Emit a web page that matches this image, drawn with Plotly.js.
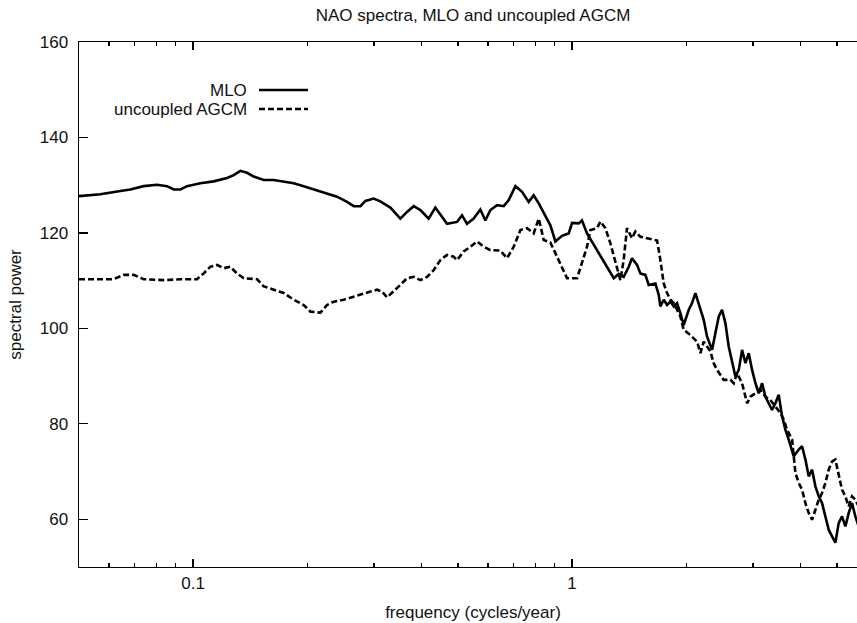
<!DOCTYPE html>
<html>
<head>
<meta charset="utf-8">
<script src="https://cdn.plot.ly/plotly-3.0.1.min.js"></script>
<style>
  html, body { margin: 0; padding: 0; background: #fff; overflow: hidden; width: 857px; height: 623px; }
  #chart { width: 877px; height: 623px; }
</style>
</head>
<body>
<div id="chart"></div>
<script>
// ---- data ----
const mloFreq = [0.05,0.0569,0.0643,0.0683,0.0741,0.0803,0.0854,0.0889,0.0926,0.0964,0.1045,0.1133,0.1229,0.128,0.1333,0.1388,0.1445,0.1536,0.1632,0.1734,0.1843,0.1958,0.2081,0.2256,0.2398,0.2548,0.2654,0.2764,0.2849,0.2996,0.3119,0.3315,0.3523,0.3668,0.3821,0.3979,0.4184,0.4357,0.4446,0.4678,0.4971,0.5124,0.5281,0.55,0.5728,
0.5904,0.6087,0.6339,0.6601,0.6805,0.7087,0.7379,0.7683,0.792,0.8166,0.8502,0.8765,0.9035,0.9408,0.9797,1.0,1.041,1.062,1.095,1.141,1.188,1.237,1.288,1.327,1.368,1.411,1.439,1.484,1.514,1.561,1.593,1.659,1.693,1.71,1.745,1.781,1.818,1.854,1.892,1.931,1.97,2.032,2.073,2.115,2.159,2.225,2.27,2.341,2.388,2.438,2.487,2.538,2.59,2.643,2.697,2.753,2.809,2.867,2.925,2.985,3.046,3.108,3.172,3.236,3.303,3.37,3.439,3.509,3.581,3.654,3.729,3.806,
3.845,3.963,4.044,4.127,4.211,4.298,4.385,4.475,4.566,4.659,4.755,4.852,4.951,5.052,5.155,5.261,5.368,5.478,5.59,5.704,5.882];
const mloPower = [127.7,128.1,128.8,129.1,129.8,130.1,129.8,129.1,129.1,129.8,130.4,130.8,131.5,132.1,133.0,132.6,131.8,131.1,131.1,130.8,130.4,129.8,129.1,128.3,127.6,126.5,125.6,125.6,126.7,127.2,126.6,125.3,123.0,124.4,125.6,124.8,123.0,125.3,124.4,121.9,122.3,123.7,121.9,123.0,124.9,
122.6,124.8,125.8,125.6,126.9,129.8,128.6,126.5,127.9,126.2,123.7,121.6,118.2,119.4,119.9,122.1,122.0,122.6,119.9,117.5,115.0,112.9,110.5,111.4,110.8,112.9,114.7,113.3,111.5,111.2,109.1,109.4,107.0,104.6,106.0,104.9,105.6,104.6,105.3,103.2,100.7,103.9,105.3,107.4,105.3,101.8,98.3,95.5,99.0,102.5,103.9,101.1,96.2,92.7,89.9,91.3,95.5,92.7,94.8,91.3,88.5,86.4,88.5,85.7,84.3,82.9,84.3,86.1,81.6,78.8,76.7,74.6,
73.2,74.6,75.3,72.5,69.0,70.4,66.9,64.8,63.4,60.6,57.8,56.4,55.1,59.2,60.6,58.5,61.3,63.4,60.6,58.5,59.2];

const agcmFreq = [0.05,0.0617,0.0656,0.0697,0.0741,0.0837,0.0926,0.1024,0.1066,0.111,0.1156,0.1204,0.1254,0.1306,0.136,0.1475,0.1536,0.1632,0.1734,0.1843,0.1958,0.204,0.2167,0.2256,0.235,0.2497,0.2654,0.282,0.2937,0.3058,0.3152,0.3249,0.3383,0.3523,0.3668,0.3821,0.3979,0.4142,0.4313,0.4493,0.4678,0.4872,0.4971,0.5176,0.539,0.5613,
0.5845,0.6087,0.6469,0.6737,0.7015,0.7305,0.7606,0.792,0.8166,0.8419,0.8765,0.9035,0.9314,0.9699,1.031,1.062,1.095,1.118,1.164,1.188,1.224,1.262,1.314,1.341,1.368,1.396,1.439,1.469,1.514,1.577,1.676,1.71,1.745,1.781,1.818,1.854,1.892,1.931,1.97,2.051,2.137,2.181,2.225,2.27,2.317,2.364,2.413,2.512,2.617,2.67,2.725,2.809,2.896,2.955,3.046,3.14,3.236,3.336,3.439,3.545,3.617,3.691,3.806,
3.884,3.963,4.044,4.127,4.211,4.298,4.385,4.475,4.566,4.659,4.755,4.852,4.951,5.052,5.155,5.261,5.368,5.478,5.59,5.704,5.882];
const agcmPower = [110.3,110.3,111.2,111.2,110.3,110.1,110.3,110.3,111.5,112.9,113.3,112.6,112.9,111.5,110.5,110.3,108.8,108.1,107.4,106.0,104.9,103.5,103.3,104.9,105.6,106.0,106.7,107.4,107.7,108.1,107.7,106.5,107.7,109.1,110.5,110.8,110.1,110.8,112.2,114.3,115.4,115.0,114.3,116.1,117.1,118.2,
117.1,116.4,116.3,114.7,117.1,120.6,121.0,119.9,123.0,118.5,118.0,115.7,113.6,110.5,110.5,113.6,117.1,120.6,121.0,122.4,121.0,117.8,112.9,110.1,114.3,121.0,118.9,120.3,119.2,118.9,118.4,114.3,109.4,107.4,106.0,105.3,103.9,102.5,99.7,98.6,97.2,94.8,97.2,96.2,95.2,92.7,91.3,89.2,89.2,88.5,90.6,88.5,84.3,85.7,86.4,87.1,85.7,85.0,83.6,82.3,80.9,78.8,76.7,
69.7,67.6,66.2,63.4,61.3,59.9,62.0,64.1,65.5,67.6,70.4,72.1,72.5,69.0,66.2,64.8,62.7,64.8,64.1,62.7,63.4];

const seriesNames = ['MLO', 'uncoupled AGCM'];
const yTicks = [60, 80, 100, 120, 140, 160];
const xMajorTicks = [0.1, 1];
const xMajorLabels = ['0.1', '1'];
const xMinorTicks = [0.06, 0.07, 0.08, 0.09, 0.2, 0.3, 0.4, 0.5, 0.6, 0.7, 0.8, 0.9, 2, 3, 4, 5];

const FONT = 'Liberation Sans, Arial, Helvetica, sans-serif';
const INK = '#111';

const traces = [
  { x: mloFreq, y: mloPower, name: seriesNames[0], type: 'scatter', mode: 'lines',
    line: { color: '#000', width: 2.6 }, showlegend: false },
  { x: agcmFreq, y: agcmPower, name: seriesNames[1], type: 'scatter', mode: 'lines',
    line: { color: '#000', width: 2.6, dash: '6px,3px' }, showlegend: false }
];

// legend (gnuplot style: text at left, line sample at right)
const W = 788, H = 525, L = 79, T = 42;
const px = v => (v - L) / W;
const py = v => 1 - (v - T) / H;
const legendRows = [{ y: 90, dash: 'solid' }, { y: 109, dash: '6px,3px' }];

const layout = {
  width: 877, height: 623,
  margin: { l: 79, r: 10, t: 42, b: 56 },
  paper_bgcolor: '#fff', plot_bgcolor: '#fff',
  font: { family: FONT, size: 17, color: INK },
  title: { text: 'NAO spectra, MLO and uncoupled AGCM', font: { family: FONT, size: 17, color: INK },
           x: 0.5, xref: 'paper', xanchor: 'center', y: 1 - 15 / 623, yref: 'container', yanchor: 'middle' },
  xaxis: {
    type: 'log', range: [Math.log10(0.05), Math.log10(6)],
    tickvals: xMajorTicks, ticktext: xMajorLabels,
    ticks: 'inside', ticklen: 8, tickwidth: 1.2, tickcolor: '#000',
    minor: { tickvals: xMinorTicks, ticks: 'inside', ticklen: 4, tickwidth: 1.2, tickcolor: '#000' },
    showline: true, linecolor: '#000', linewidth: 1.4, mirror: 'ticks',
    showgrid: false, zeroline: false,
    tickfont: { family: FONT, size: 17, color: INK },
    title: { text: 'frequency (cycles/year)', font: { family: FONT, size: 17, color: INK }, standoff: 14 }
  },
  yaxis: {
    range: [50, 160], tickvals: yTicks,
    ticks: 'inside', ticklen: 9, tickwidth: 1.2, tickcolor: '#000',
    showline: true, linecolor: '#000', linewidth: 1.4, mirror: 'ticks',
    showgrid: false, zeroline: false,
    tickfont: { family: FONT, size: 17, color: INK },
    ticklabelstandoff: 6,
    title: { text: 'spectral power', font: { family: FONT, size: 17, color: INK }, standoff: 14 }
  },
  annotations: seriesNames.map((n, i) => ({
    text: n, xref: 'paper', yref: 'paper', x: px(249), y: py(legendRows[i].y),
    xanchor: 'right', yanchor: 'middle', showarrow: false,
    font: { family: FONT, size: 17, color: INK }
  })),
  shapes: legendRows.map(r => ({
    type: 'line', xref: 'paper', yref: 'paper',
    x0: px(259), x1: px(308), y0: py(r.y), y1: py(r.y),
    line: { color: '#000', width: 2.6, dash: r.dash }
  }))
};

Plotly.newPlot('chart', traces, layout, { displayModeBar: false, staticPlot: true });
</script>
</body>
</html>
